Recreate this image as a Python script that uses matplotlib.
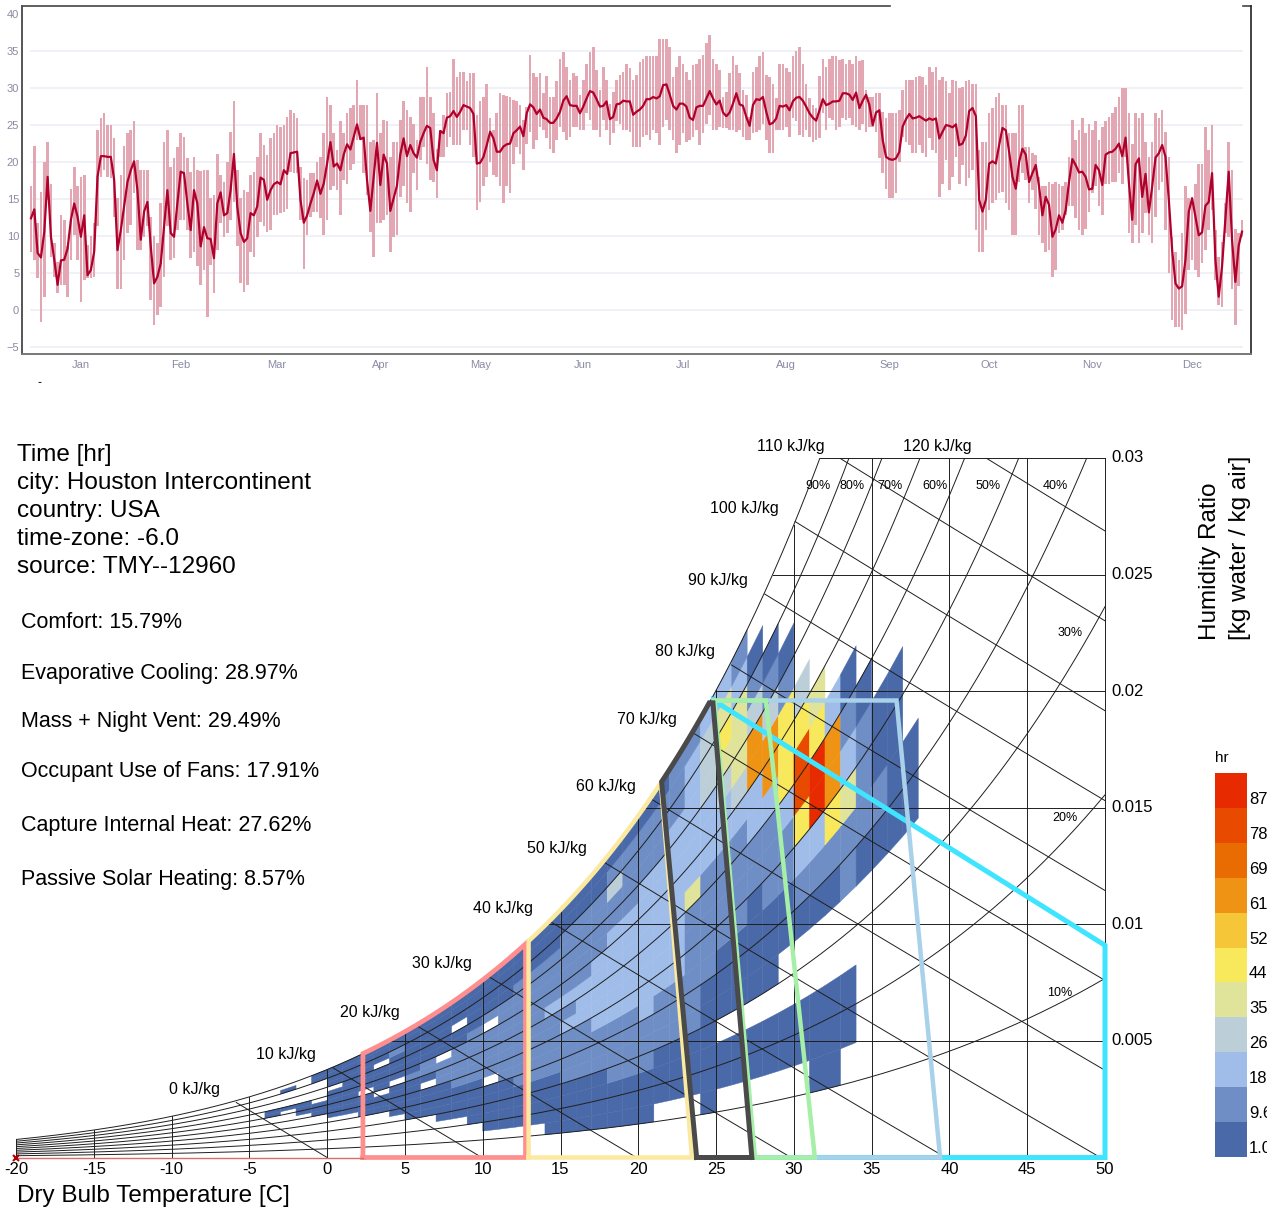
import numpy as np
import matplotlib.pyplot as plt
from matplotlib.collections import PolyCollection
from matplotlib.colors import ListedColormap, BoundaryNorm
from matplotlib.patches import Rectangle

plt.rcParams['font.family'] = ['Liberation Sans', 'DejaVu Sans']

FW, FH = 1267, 1215

# ---------------- daily dry bulb temperature (C) ----------------
t_mean = [
    12.4, 13.6, 7.7, 7.1, 10.6, 18.0, 9.9, 6.8, 3.4, 6.7,
    6.8, 8.3, 12.2, 14.4, 12.6, 9.9, 12.8, 4.7, 5.4, 7.9,
    18.0, 20.8, 20.8, 20.7, 20.7, 17.6, 8.1, 10.8, 14.0, 17.3,
    18.9, 20.1, 16.2, 9.5, 13.3, 14.6, 8.6, 3.6, 4.5, 6.3,
    11.3, 16.2, 10.4, 9.9, 14.4, 18.7, 18.5, 14.4, 10.8, 16.2,
    14.4, 8.6, 11.2, 9.7, 9.6, 7.0, 14.4, 15.9, 12.8, 13.1,
    16.2, 21.1, 14.0, 10.4, 9.2, 9.7, 13.1, 12.8, 14.0, 17.9,
    17.6, 14.9, 16.2, 17.0, 17.3, 17.0, 18.9, 18.4, 21.2, 21.3,
    21.4, 14.9, 11.8, 12.8, 14.4, 15.8, 17.5, 15.7, 17.1, 19.8,
    22.7,
    19.4, 19.8, 18.9, 21.0, 22.4, 21.7, 23.4, 25.1, 23.1, 23.3,
    17.6, 13.4, 18.0, 22.6, 16.9, 21.0, 19.8, 13.4, 15.1, 16.8,
    21.0, 23.2, 20.8, 22.3, 21.2, 20.6, 22.7, 23.9, 24.9, 24.6,
    20.3, 18.9, 24.2, 23.9, 26.0, 26.2, 26.9, 26.1, 26.8, 27.7,
    27.5, 27.3, 26.5, 19.8, 19.9, 20.7, 22.3, 24.1, 23.2, 21.4,
    21.4, 22.1, 22.4, 22.5, 23.9, 24.3, 24.8, 23.5, 26.6, 27.8,
    27.4, 26.5, 27.1, 26.0, 25.8, 25.3, 25.3, 25.9, 26.8, 28.3,
    28.9, 27.7, 27.6, 27.6, 26.6, 27.5, 28.6, 29.6, 29.4, 28.5,
    27.5, 27.6, 28.2, 25.8, 26.1, 27.8, 27.9, 28.3, 28.2, 28.2,
    26.4, 26.8, 27.1,
    27.6, 28.5, 28.5, 28.8, 28.6, 28.9, 30.4, 30.5, 29.1, 27.6,
    27.1, 27.9, 27.9, 27.5, 26.0, 25.7, 27.4, 27.6, 27.6, 28.6,
    29.6, 28.6, 27.8, 28.3, 26.7, 26.2, 26.7, 27.9, 29.3, 27.8,
    27.6, 26.1, 24.9, 27.7, 28.5, 28.4, 28.8, 26.8, 25.1, 25.3,
    25.9, 27.6, 27.5, 27.7, 27.0, 28.2, 28.7, 28.8, 28.3, 27.5,
    26.6, 26.0, 25.6, 27.0, 28.5, 27.7, 27.9, 28.2, 28.2, 28.3,
    29.3, 29.3, 29.1, 28.4, 29.4, 27.3, 28.3, 29.1, 27.7, 25.0,
    26.7, 27.0, 23.0, 20.7, 20.4, 20.3, 20.5, 21.4, 24.8, 25.8,
    26.5, 25.9, 26.0, 26.2, 25.9, 25.6, 25.9, 25.7, 25.9, 23.2,
    24.1, 25.0,
    24.9, 24.7, 25.1, 22.3, 22.5, 23.6, 26.9, 27.3, 26.2, 14.9,
    13.3, 14.9, 19.8, 20.1, 19.8, 22.3, 24.6, 24.3, 21.4, 18.0,
    16.4, 20.0, 21.8, 21.0, 17.3, 18.5, 19.6, 16.7, 12.8, 15.3,
    14.2, 9.9, 10.9, 12.8, 11.8, 13.5, 17.3, 20.4, 19.6, 18.6,
    18.7, 18.0, 16.3, 16.4, 19.6, 18.9, 16.9, 21.0, 21.3, 21.4,
    21.8, 22.5, 20.8, 23.3, 17.2, 12.2, 19.7, 20.5, 15.3, 18.4,
    13.2, 16.7, 20.6, 21.2, 22.3, 20.7, 14.9, 8.1, 3.6, 2.9,
    3.2, 6.8, 13.3, 15.1, 12.6, 10.1, 10.5, 14.1, 14.6, 18.5,
    6.8, 1.8, 5.9, 12.2, 18.7, 9.5, 3.8, 8.7, 10.6,
]
t_max = [
    16.7, 22.2, 11.7, 16.0, 20.0, 22.7, 17.1, 9.0, 6.5, 12.8,
    12.2, 8.6, 16.4, 19.4, 16.7, 18.0, 18.2, 8.8, 10.0, 11.7,
    24.3, 26.0, 26.7, 25.0, 25.0, 23.3, 15.1, 18.2, 22.2, 23.9,
    24.3, 25.6, 20.3, 18.9, 18.9, 18.9, 12.6, 10.0, 9.0, 14.4,
    22.7, 24.4, 19.4, 20.5, 22.1, 23.9, 23.4, 20.5, 18.7, 20.7,
    18.9, 18.8, 18.9, 18.9, 15.1, 15.5, 21.1, 18.2, 17.3, 20.0,
    24.1, 28.2, 18.9, 15.1, 16.2, 16.0, 18.2, 18.7, 20.7, 23.9,
    22.3, 21.0, 23.2, 23.9, 25.0, 24.8, 25.0, 26.1, 27.1, 26.7,
    26.0, 19.4, 17.8, 17.6, 18.5, 18.5, 20.0, 20.7, 23.9, 28.8,
    27.7,
    23.9, 21.6, 25.6, 23.9, 26.6, 27.3, 27.7, 31.1, 27.7, 27.7,
    27.7, 22.7, 23.0, 29.4, 23.9, 25.7, 25.6, 20.7, 22.7, 22.7,
    25.7, 28.3, 27.0, 26.1, 25.2, 23.0, 28.8, 28.8, 32.8, 28.8,
    26.6, 21.8, 24.3, 26.4, 29.4, 29.5, 33.9, 31.5, 32.2, 32.2,
    30.9, 32.1, 32.1, 26.4, 28.3, 28.8, 30.6, 26.0, 24.3, 26.6,
    29.4, 29.1, 28.9, 28.8, 28.4, 28.2, 27.7, 25.7, 27.5, 34.5,
    32.1, 31.5, 32.0, 29.4, 31.6, 28.8, 28.8, 30.9, 33.9, 34.9,
    32.9, 31.1, 32.0, 31.6, 29.1, 31.1, 33.3, 34.9, 35.6, 32.4,
    29.8, 32.9, 31.1, 27.9, 29.5, 31.1, 31.8, 32.2, 33.3, 32.7,
    31.1, 31.8, 33.5,
    33.9, 34.3, 34.3, 34.3, 34.3, 36.7, 36.7, 36.7, 35.6, 31.5,
    32.9, 34.3, 33.3, 32.2, 31.1, 33.1, 33.3, 33.9, 34.5, 36.1,
    37.2, 34.0, 33.3, 32.4, 28.8, 29.5, 32.0, 34.3, 33.1, 32.0,
    29.8, 29.1, 26.1, 32.2, 32.9, 34.3, 34.9, 31.8, 31.5, 30.6,
    28.6, 33.3, 33.3, 32.7, 32.2, 34.3, 35.0, 35.6, 33.3, 30.6,
    28.6, 27.7, 27.3, 31.6, 33.9, 32.9, 33.9, 34.3, 34.3, 33.8,
    33.9, 33.3, 33.8, 33.3, 34.3, 33.6, 33.8, 29.7, 28.8, 28.8,
    29.3, 29.3, 26.8, 25.9, 26.6, 26.6, 26.7, 27.0, 29.7, 31.1,
    31.1, 31.1, 31.5, 31.6, 31.5, 30.4, 32.8, 32.2, 32.8, 31.1,
    31.5, 31.0,
    29.3, 31.1, 30.9, 30.0, 30.2, 31.0, 31.1, 30.6, 30.5, 21.6,
    22.7, 22.7, 26.6, 27.3, 28.8, 29.4, 27.7, 27.7, 23.9, 23.9,
    23.9, 27.7, 27.7, 22.1, 22.1, 21.2, 21.0, 18.0, 16.7, 16.7,
    17.3, 17.1, 17.3, 17.1, 16.7, 17.3, 20.7, 25.7, 23.0, 24.3,
    25.9, 23.9, 25.2, 24.3, 25.5, 23.0, 24.8, 25.5, 26.1, 26.7,
    27.5, 28.8, 30.0, 30.0, 26.6, 22.5, 26.6, 25.9, 26.6, 22.7,
    20.7, 22.7, 26.6, 25.9, 27.0, 24.0, 20.7, 9.9, 7.9, 6.8,
    10.4, 16.7, 15.1, 15.3, 17.1, 19.8, 19.8, 24.8, 21.6, 25.0,
    10.8, 7.2, 9.2, 14.4, 22.7, 18.9, 11.0, 10.4, 12.2,
]
t_min = [
    7.9, 6.8, 4.3, -1.6, 1.8, 14.9, 7.2, 4.5, 2.3, 3.4,
    3.4, 1.8, 6.8, 10.1, 6.8, 1.1, 4.0, 4.3, 4.3, 4.5,
    11.3, 18.0, 18.9, 18.0, 17.8, 12.6, 2.9, 2.9, 6.8, 10.4,
    11.5, 15.8, 8.1, 8.1, 9.9, 11.3, 1.3, -2.0, -0.7, 0.4,
    4.5, 11.3, 6.8, 7.0, 10.8, 12.2, 12.2, 10.8, 7.0, 7.9,
    5.9, 3.4, 5.4, -0.9, 6.1, 2.3, 8.1, 11.7, 9.9, 10.4,
    12.2, 14.6, 8.6, 3.6, 2.5, 3.4, 7.9, 7.2, 9.9, 11.9,
    11.3, 10.6, 10.8, 12.8, 12.8, 13.1, 13.3, 13.7, 18.7, 18.5,
    18.5, 12.2, 5.6, 10.1, 12.6, 13.3, 13.3, 12.4, 10.1, 12.2,
    16.2,
    16.7, 16.2, 12.8, 17.6, 17.1, 18.9, 19.8, 23.0, 23.0, 18.5,
    15.5, 10.6, 7.2, 11.7, 11.7, 12.2, 12.8, 7.9, 9.9, 10.1,
    15.3, 16.7, 14.4, 13.3, 18.5, 16.2, 20.3, 22.1, 19.8, 17.6,
    17.3, 15.1, 20.7, 20.7, 22.1, 23.4, 22.3, 22.3, 22.3, 24.3,
    24.3, 22.3, 20.7, 13.5, 14.6, 16.7, 18.0, 20.0, 18.2, 18.0,
    16.7, 14.4, 16.7, 15.8, 19.8, 22.1, 21.1, 18.9, 22.5, 24.1,
    21.8, 23.0, 24.8, 24.3, 23.2, 21.8, 21.2, 23.0, 24.8, 24.1,
    23.0, 23.4, 24.8, 24.8, 24.3, 24.3, 26.6, 25.7, 24.3, 24.3,
    23.4, 25.7, 24.3, 22.3, 23.9, 25.5, 25.2, 24.3, 24.3, 24.1,
    22.1, 22.1, 22.1,
    23.4, 23.6, 23.0, 24.3, 23.9, 22.3, 24.8, 25.7, 24.3, 23.0,
    21.2, 22.3, 23.9, 22.7, 23.0, 23.4, 24.3, 22.3, 23.9, 25.2,
    26.4, 24.3, 24.3, 24.8, 24.6, 24.6, 24.3, 24.3, 24.1, 24.3,
    23.4, 23.0, 23.0, 23.9, 24.1, 24.3, 25.2, 23.0, 21.2, 21.2,
    24.3, 24.3, 24.3, 24.8, 23.4, 25.9, 25.5, 23.6, 23.4, 24.3,
    23.4, 22.7, 23.0, 23.2, 26.6, 24.3, 25.9, 25.7, 24.3, 24.8,
    25.9, 25.7, 25.9, 25.0, 24.8, 24.3, 25.2, 24.1, 24.8, 24.8,
    24.1, 20.5, 18.5, 16.4, 15.1, 15.1, 15.8, 20.0, 23.4, 22.7,
    22.3, 21.2, 21.2, 22.3, 21.2, 20.7, 23.2, 21.6, 21.2, 15.3,
    17.1, 20.3,
    16.2, 18.0, 20.7, 17.1, 19.6, 16.7, 17.8, 18.9, 10.8, 7.9,
    7.9, 10.8, 13.5, 14.4, 14.9, 15.8, 16.0, 14.4, 13.5, 10.1,
    10.1, 17.3, 18.5, 17.6, 14.4, 16.2, 13.7, 10.1, 9.0, 7.9,
    8.1, 4.5, 5.4, 10.4, 10.8, 12.8, 14.0, 14.0, 12.4, 10.8,
    10.1, 11.0, 13.3, 15.8, 16.7, 14.0, 12.8, 17.1, 17.1, 17.3,
    17.3, 18.5, 17.1, 20.7, 10.4, 9.0, 11.5, 9.0, 10.4, 13.1,
    10.1, 9.0, 12.6, 16.2, 17.3, 10.8, 5.0, -1.4, -2.3, -2.3,
    -2.7, -0.5, 5.4, 6.8, 5.4, 4.5, 6.3, 8.1, 10.8, 13.5,
    4.1, 0.7, 0.4, 10.4, 9.9, 2.9, -2.0, 3.2, 9.9,
]
month_names = ['Jan', 'Feb', 'Mar', 'Apr', 'May', 'Jun',
               'Jul', 'Aug', 'Sep', 'Oct', 'Nov', 'Dec']
month_mid = [15, 45, 74, 105, 135, 166, 196, 227, 258, 288, 319, 349]

# ---------------- psychrometric hours (1 C dry bulb x 5 % RH bins) ----------------
# one row per dry bulb column: first RH bin index (bin k = 5k..5k+5 %), then hours per bin
hm_temps = list(range(-4, 38))
hm_start = [
    12, 13, 11, 10,                    # -4 .. -1
    9, 9, 8, 8, 7, 6, 6, 5, 5, 4,      # 0 .. 9
    3, 3, 3, 3, 2, 2, 2, 2, 2, 2,      # 10 .. 19
    2, 3, 3, 3, 2, 3, 3, 3, 3, 3,      # 20 .. 29
    3, 2, 2, 3, 7, 7, 7, 7,            # 30 .. 37
]
hm_counts = [
    [2, 2],
    [2, 0, 0, 0, 0, 2],
    [2, 3, 2],
    [2, 3, 2, 0, 0, 0, 0, 0, 2, 3],
    [3, 4, 5, 3, 4, 5, 0, 3, 4, 5, 3],
    [3, 5, 6, 4, 5, 6, 4, 5, 6, 4, 3],
    [2, 4, 6, 5, 0, 6, 7, 5, 6, 5, 4, 3],
    [2, 5, 7, 0, 6, 8, 7, 6, 0, 5, 4, 3],
    [2, 3, 6, 8, 7, 0, 8, 9, 7, 6, 11, 5, 3],
    [2, 3, 5, 7, 9, 8, 10, 9, 7, 8, 6, 5, 4, 3],
    [2, 4, 6, 8, 0, 9, 11, 10, 8, 7, 6, 5, 4, 3],
    [2, 3, 5, 7, 9, 11, 10, 12, 0, 9, 8, 7, 5, 4, 3],
    [2, 4, 6, 8, 10, 12, 11, 13, 10, 9, 8, 0, 6, 4, 3],
    [2, 3, 5, 7, 9, 11, 13, 12, 14, 11, 10, 9, 7, 6, 4, 3],
    [2, 3, 4, 6, 8, 0, 12, 14, 13, 15, 12, 0, 10, 8, 6, 5, 3],
    [2, 3, 5, 7, 9, 11, 13, 15, 14, 16, 13, 12, 11, 9, 7, 5, 3],
    [2, 4, 5, 7, 10, 12, 14, 16, 15, 17, 14, 13, 12, 10, 8, 6, 4],
    [3, 4, 6, 8, 11, 13, 15, 17, 16, 18, 15, 14, 13, 11, 9, 7, 4],
    [2, 3, 5, 7, 9, 12, 14, 16, 18, 17, 19, 16, 15, 13, 11, 9, 6, 4],
    [2, 4, 6, 8, 10, 13, 15, 17, 19, 18, 20, 17, 16, 14, 12, 10, 7, 4],
    [2, 4, 6, 8, 11, 14, 16, 18, 20, 19, 21, 18, 17, 15, 13, 11, 8, 5],
    [3, 5, 7, 9, 12, 15, 17, 19, 21, 20, 22, 19, 18, 16, 14, 12, 9, 5],
    [3, 5, 7, 10, 12, 15, 18, 20, 22, 21, 23, 20, 19, 17, 15, 28, 10, 6],
    [3, 5, 8, 10, 13, 16, 18, 21, 23, 22, 24, 21, 20, 18, 16, 14, 11, 6],
    [3, 5, 8, 11, 13, 16, 19, 21, 23, 22, 24, 22, 21, 19, 17, 15, 12, 7],
    [3, 6, 9, 12, 15, 18, 20, 21, 20, 23, 22, 21, 20, 18, 16, 13, 8],
    [3, 5, 8, 11, 14, 17, 19, 20, 19, 22, 23, 22, 21, 20, 18, 15, 10],
    [2, 4, 7, 10, 12, 14, 16, 18, 17, 38, 22, 24, 25, 26, 24, 20, 12],
    [2, 3, 4, 3, 6, 8, 10, 12, 14, 16, 18, 20, 22, 26, 30, 32, 28, 20],
    [3, 4, 0, 5, 7, 9, 11, 13, 15, 18, 22, 26, 30, 36, 46, 40, 24],
    [2, 4, 0, 4, 6, 8, 10, 12, 15, 18, 22, 28, 38, 40, 36, 22, 10],
    [2, 5, 0, 3, 5, 7, 9, 12, 15, 20, 26, 64, 62, 30, 14, 6],
    [3, 5, 0, 3, 6, 8, 10, 14, 18, 24, 66, 62, 28, 12, 5],
    [2, 4, 0, 0, 6, 9, 12, 16, 22, 48, 50, 46, 10, 4],
    [2, 4, 0, 0, 6, 10, 20, 46, 80, 82, 48, 30],
    [2, 3, 4, 0, 0, 7, 12, 22, 88, 92, 50, 40],
    [3, 3, 5, 0, 0, 9, 14, 50, 64, 66, 20],
    [2, 4, 0, 0, 10, 16, 38, 24, 12, 5],
    [7, 12, 16, 10, 5],
    [6, 10, 8, 4],
    [5, 8, 6, 3],
    [3, 2],
]

legend_colors = ['#4a69a8', '#6e8ec5', '#a0bdea', '#bccfd8', '#e0e39a', '#f8e85c',
                 '#f4c638', '#ee9314', '#e86c02', '#e84a00', '#e82a00']
legend_bounds = [1.0, 9.6, 18.2, 26.8, 35.4, 44.0, 52.6, 61.2, 69.8, 78.4, 87.0, 95.6]
legend_labels = ['1.0', '9.6', '18', '26', '35', '44', '52', '61', '69', '78', '87']

info_lines = ['Time [hr]', 'city: Houston Intercontinent', 'country: USA',
              'time-zone: -6.0', 'source: TMY--12960']
strategy_lines = ['Comfort: 15.79%', 'Evaporative Cooling: 28.97%',
                  'Mass + Night Vent: 29.49%', 'Occupant Use of Fans: 17.91%',
                  'Capture Internal Heat: 27.62%', 'Passive Solar Heating: 8.57%']

enthalpy_levels = list(range(0, 130, 10))
rh_levels = [0.1, 0.2, 0.3, 0.4, 0.5, 0.6, 0.7, 0.8, 0.9]
rh_label_pos = [(47.11, 0.00706), (47.43, 0.01456), (47.75, 0.0225), (46.79, 0.0288),
                (42.48, 0.0288), (39.07, 0.0288), (36.18, 0.0288), (33.74, 0.0288),
                (31.55, 0.0288)]


def sat_press(t):
    return 0.61094 * np.exp(17.625 * t / (t + 243.04))


def hum_ratio(t, rh):
    pw = rh * sat_press(t)
    return 0.621945 * pw / (101.325 - pw)


fig = plt.figure(figsize=(FW / 100, FH / 100), dpi=100)

# ================= top: daily temperature chart =================
ax1 = fig.add_axes([22 / FW, 1 - 354 / FH, 1229 / FW, 348 / FH])
n = min(len(t_mean), len(t_max), len(t_min))
days = np.arange(n)
lo = np.array(t_min[:n])
hi = np.array(t_max[:n])
for v in range(-5, 36, 5):
    ax1.hlines(v, -0.3, n - 0.7, color='#eceef5', lw=1.1, zorder=0)
ax1.bar(days, hi - lo, bottom=lo, width=0.78, color='#e3a6b3', linewidth=0, zorder=1)
ax1.plot(days, t_mean[:n], color='#b0002c', lw=1.6, zorder=2)
ax1.set_xlim(-2.7, 366.7)
ax1.set_ylim(-5.95, 41.1)
ax1.set_yticks(range(-5, 41, 5))
ax1.set_xticks(month_mid, month_names)
ax1.tick_params(length=0, labelsize=8, colors='#8a8aa4')
ax1.tick_params(axis='y', pad=2)
ax1.tick_params(axis='x', pad=4)
ax1.spines['top'].set_visible(False)
ax1.spines['left'].set_color('#555555')
ax1.spines['left'].set_linewidth(1.4)
ax1.spines['bottom'].set_color('#777777')
ax1.spines['bottom'].set_linewidth(1.4)
ax1.spines['right'].set_color('#222222')
ax1.spines['right'].set_linewidth(1.2)
ax1.plot([0, 0.706], [1, 1], transform=ax1.transAxes, color='#444444', lw=1.2, clip_on=False)
ax1.plot([0.9935, 1], [1, 1], transform=ax1.transAxes, color='#444444', lw=1.2, clip_on=False)
fig.text(40 / FW, 1 - 383 / FH, '-', fontsize=9, ha='center', va='center')

# ================= bottom: psychrometric chart =================
ax2 = fig.add_axes([16 / FW, 1 - 1157.5 / FH, 1089 / FW, 699.5 / FH])
ax2.set_xlim(-20, 50)
ax2.set_ylim(0, 0.03)
ax2.axis('off')

cmap = ListedColormap(legend_colors)
cmap.set_over(legend_colors[-1])
norm = BoundaryNorm(legend_bounds, cmap.N)

polys, vals = [], []
for t0, b0, counts in zip(hm_temps, hm_start, hm_counts):
    for k, c in enumerate(counts):
        if c <= 0:
            continue
        r0 = (b0 + k) * 0.05
        r1 = min(r0 + 0.05, 1.0)
        polys.append([(t0, hum_ratio(t0, r0)), (t0 + 1, hum_ratio(t0 + 1, r0)),
                      (t0 + 1, hum_ratio(t0 + 1, r1)), (t0, hum_ratio(t0, r1))])
        vals.append(c)
pc = PolyCollection(polys, array=np.array(vals, dtype=float), cmap=cmap, norm=norm,
                    edgecolors='face', linewidths=0.3, zorder=1)
ax2.add_collection(pc)

lc = '#1e1e1e'
lw = 0.7
tt = np.linspace(-20, 50, 1401)
ws = hum_ratio(tt, 1.0)
ax2.plot(tt, ws, color=lc, lw=lw, zorder=3)
for rh in rh_levels:
    ax2.plot(tt, hum_ratio(tt, rh), color=lc, lw=lw, zorder=3)
for t in range(-20, 50, 5):
    ax2.plot([t, t], [0, min(hum_ratio(t, 1.0), 0.03)], color=lc, lw=lw, zorder=3)
ax2.plot([50, 50], [0, 0.03], color=lc, lw=lw, zorder=3, clip_on=False)
for w in [0.005, 0.01, 0.015, 0.02, 0.025, 0.03]:
    ts = np.interp(w, ws, tt)
    ax2.plot([ts, 50], [w, w], color=lc, lw=lw, zorder=3, clip_on=False)

wv = np.linspace(0, 0.031, 500)
for h in enthalpy_levels:
    tv = (h - 2501 * wv) / (1.006 + 1.86 * wv)
    ok = wv <= hum_ratio(tv, 1.0)
    ax2.plot(tv[ok], wv[ok], color=lc, lw=lw, zorder=3)
    inside = np.where(ok & (wv <= 0.03) & (tv <= 50))[0]
    i = inside.max()
    ax2.annotate(f'{h} kJ/kg', (tv[i], wv[i]), xytext=(-12, 9.5), textcoords='offset points',
                 ha='right', va='center', fontsize=11.5)

for rh, (x, y) in zip(rh_levels, rh_label_pos):
    ax2.text(x, y, f'{int(round(rh * 100))}%', fontsize=9, ha='center', va='center')


# strategy polygons
def sat_seg(t_a, t_b):
    s = np.linspace(t_a, t_b, 40)
    return list(zip(s, hum_ratio(s, 1.0)))


t_top = np.interp(0.0195, ws, tt)
polys_def = [
    ([(27.4, 0), (24.85, 0.0196), (50, 0.0091), (50, 0), (27.4, 0)], '#3fe4ff', 3.6),
    ([(27.45, 0), (24.85, 0.0196), (36.6, 0.0196), (39.4, 0), (27.45, 0)], '#a9d1ea', 3.2),
    ([(27.5, 0), (24.9, 0.0196), (28.2, 0.0196), (31.35, 0), (27.5, 0)], '#a6efa6', 3.2),
    ([(2.3, 0)] + sat_seg(2.3, 12.75) + [(12.75, 0), (2.3, 0)], '#ff8f8f', 3.4),
    ([(12.95, 0)] + sat_seg(12.95, 21.45) + [(23.45, 0), (12.95, 0)], '#fbe9a0', 3.2),
    ([(23.75, 0)] + sat_seg(21.5, t_top) + [(24.8, 0.0195), (27.3, 0), (23.75, 0)], '#4a4a4a', 3.6),
]
for pts, col, w in polys_def:
    xs, ys = zip(*pts)
    ax2.plot(xs, ys, color=col, lw=w, zorder=4, clip_on=False, solid_joinstyle='miter')

ax2.plot([-20, 2.3], [0, 0], color='#e06a6a', lw=1.0, zorder=4, clip_on=False)
ax2.plot([-20], [0], marker='x', color='#b00000', ms=4, mew=1.5, zorder=5, clip_on=False)

for t in range(-20, 51, 5):
    ax2.annotate(str(t), (t, 0), xytext=(0, -8.5), textcoords='offset points',
                 ha='center', va='center', fontsize=12)
for w in [0.005, 0.01, 0.015, 0.02, 0.025, 0.03]:
    ax2.annotate(f'{w:g}', (50, w), xytext=(4.3, 0), textcoords='offset points',
                 ha='left', va='center', fontsize=12)

# texts
for i, s in enumerate(info_lines):
    fig.text(17 / FW, 1 - (455 + 28 * i) / FH, s, fontsize=17.5, ha='left', va='center')
for s, y in zip(strategy_lines, [622, 674, 722, 772, 826, 880]):
    fig.text(21 / FW, 1 - y / FH, s, fontsize=15.5, ha='left', va='center')
fig.text(17 / FW, 1 - 1196 / FH, 'Dry Bulb Temperature [C]', fontsize=17.5,
         ha='left', va='center')
fig.text(1210 / FW, 1 - 640 / FH, 'Humidity Ratio', fontsize=17.5, rotation=90,
         rotation_mode='anchor', ha='left', va='center')
fig.text(1240 / FW, 1 - 640 / FH, '[kg water / kg air]', fontsize=17.5, rotation=90,
         rotation_mode='anchor', ha='left', va='center')

# legend
lax = fig.add_axes([1215 / FW, 1 - 1157 / FH, 32 / FW, 384 / FH])
lax.set_xlim(0, 1)
lax.set_ylim(0, len(legend_colors))
lax.axis('off')
for i, col in enumerate(legend_colors):
    lax.add_patch(Rectangle((0, i), 1, 1, facecolor=col, edgecolor='none'))
blk = 384 / len(legend_colors)
for i, lab in enumerate(legend_labels):
    fig.text(1249 / FW, 1 - (1157 - i * blk - 1) / FH, lab, fontsize=12,
             ha='left', va='bottom')
fig.text(1222 / FW, 1 - 758 / FH, 'hr', fontsize=11, ha='center', va='center')

fig.savefig('out.png', dpi=100)
